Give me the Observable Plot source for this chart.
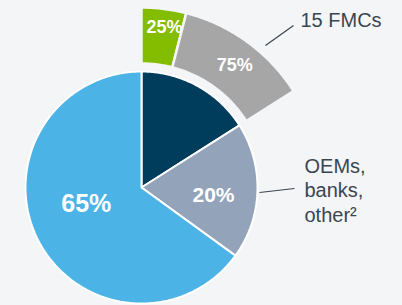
<!DOCTYPE html>
<html>
<head>
<meta charset="utf-8">
<script src="https://cdn.jsdelivr.net/npm/d3@7"></script>
<script src="https://cdn.jsdelivr.net/npm/@observablehq/plot@0.6"></script>
<style>
  html, body { margin: 0; padding: 0; background: #f4f5f7; }
  svg { display: block; }
</style>
</head>
<body>
<div id="chart"></div>
<script>
// ---- data ----
const segments = ["Captive", "OEMs, banks, other", "Rest"];
const segmentValues = [16, 19, 65];
const segmentLabels = ["", "20%", "65%"];
const segmentColors = ["#003d5c", "#93a3b9", "#4cb3e6"];

const fmcSegments = ["Top", "15 FMCs"];
const fmcValues = [25, 75];
const fmcLabels = ["25%", "75%"];
const fmcColors = ["#84bd00", "#a6a6a6"];

const calloutFMC = "15 FMCs";
const calloutOEM = "OEMs,\nbanks,\nother\u00B2";

// ---- layout ----
const W = 402, H = 305;
const cx = 141, cy = 187;          // pie centre in pixels
const R = 116;                      // inner pie radius
const R1 = 124, R2 = 180;           // exploded ring radii
const font = "'Liberation Sans', Arial, Helvetica, sans-serif";

const pol = (a, r) => ({x: r * Math.sin(a), y: r * Math.cos(a)});

const pie = d3.pie().sort(null).startAngle(0).endAngle(2 * Math.PI);
const arcs = pie(segmentValues);
const ringPie = d3.pie().sort(null).startAngle(0).endAngle(arcs[0].endAngle);
const ringArcs = ringPie(fmcValues);

function steps(a0, a1) {
  const n = Math.max(2, Math.ceil(Math.abs(a1 - a0) / 0.01));
  return d3.range(n + 1).map(i => a0 + (a1 - a0) * i / n);
}
function slicePoly(a) {
  return [{x: 0, y: 0}, ...steps(a.startAngle, a.endAngle).map(t => pol(t, R))];
}
function ringPoly(a) {
  return [
    ...steps(a.startAngle, a.endAngle).map(t => pol(t, R2)),
    ...steps(a.endAngle, a.startAngle).map(t => pol(t, R1))
  ];
}

const marks = [];
arcs.forEach((a, i) => {
  marks.push(Plot.line(slicePoly(a), {
    x: "x", y: "y", curve: "linear-closed",
    fill: segmentColors[i], stroke: "#ffffff", strokeWidth: 2, strokeLinejoin: "miter"
  }));
});
ringArcs.forEach((a, i) => {
  marks.push(Plot.line(ringPoly(a), {
    x: "x", y: "y", curve: "linear-closed",
    fill: fmcColors[i], stroke: "#f4f5f7", strokeWidth: 2.5, strokeLinejoin: "miter"
  }));
});

// percentage labels
const mid = a => (a.startAngle + a.endAngle) / 2;
marks.push(Plot.text([pol(mid(arcs[2]), 62)], {
  x: "x", y: "y", text: [segmentLabels[2]], fill: "white", fontWeight: "bold",
  fontSize: 25, dy: -12, fontFamily: font
}));
marks.push(Plot.text([pol(mid(arcs[1]), 72)], {
  x: "x", y: "y", text: [segmentLabels[1]], fill: "white", fontWeight: "bold",
  fontSize: 21, dy: 6, fontFamily: font
}));
marks.push(Plot.text([pol(mid(ringArcs[0]), 160)], {
  x: "x", y: "y", text: [fmcLabels[0]], fill: "white", fontWeight: "bold",
  fontSize: 18, dx: 3, dy: -2, fontFamily: font
}));
marks.push(Plot.text([pol(mid(ringArcs[1]), 152)], {
  x: "x", y: "y", text: [fmcLabels[1]], fill: "white", fontWeight: "bold",
  fontSize: 18, dx: 4, dy: 1, fontFamily: font
}));

// callouts
const px = (X, Y) => ({x: X - cx, y: cy - Y});
marks.push(Plot.link([{a: px(265, 45), b: px(293, 25)}], {
  x1: d => d.a.x, y1: d => d.a.y, x2: d => d.b.x, y2: d => d.b.y,
  stroke: "#3b4550", strokeWidth: 1.2
}));
marks.push(Plot.link([{a: px(259, 192), b: px(294, 188)}], {
  x1: d => d.a.x, y1: d => d.a.y, x2: d => d.b.x, y2: d => d.b.y,
  stroke: "#3b4550", strokeWidth: 1.2
}));
marks.push(Plot.text([px(300, 20)], {
  x: "x", y: "y", text: [calloutFMC], textAnchor: "start", fill: "#3b4550",
  fontSize: 20, fontFamily: font
}));
marks.push(Plot.text([px(304, 189)], {
  x: "x", y: "y", text: [calloutOEM], textAnchor: "start", fill: "#3b4550",
  fontSize: 20, lineHeight: 1.22, fontFamily: font
}));

const chart = Plot.plot({
  width: W, height: H,
  margin: 0,
  x: {domain: [-cx, W - cx], axis: null},
  y: {domain: [-(H - cy), cy], axis: null},
  style: {background: "#f4f5f7", fontFamily: font, overflow: "visible"},
  marks
});
document.getElementById("chart").appendChild(chart);
</script>
</body>
</html>
